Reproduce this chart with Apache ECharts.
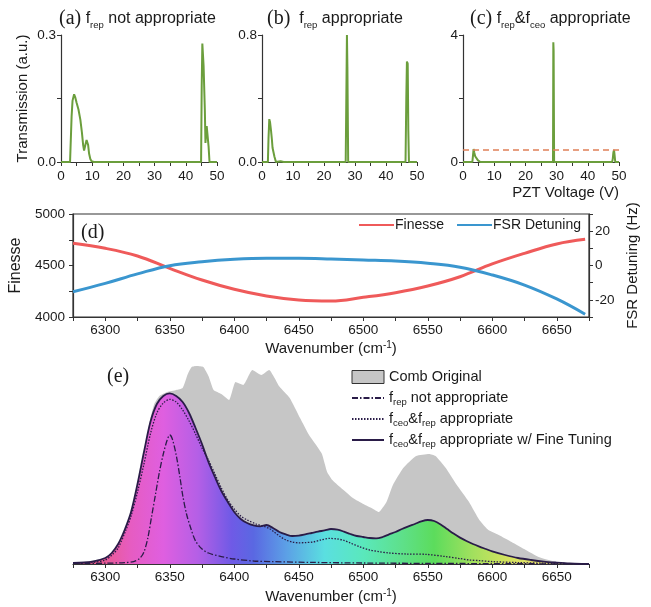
<!DOCTYPE html>
<html>
<head>
<meta charset="utf-8">
<script src="https://cdn.jsdelivr.net/npm/echarts@6/dist/echarts.min.js"></script>
<style>
html, body { margin: 0; padding: 0; background: #fff; }
#chart { width: 651px; height: 607px; }
</style>
</head>
<body>
<div id="chart"></div>
<script>
// ---- (a)(b)(c) PZT scans : voltage (V) / transmission (a.u.)
var aVolt = [0, 2.9, 3.4, 3.7, 4.2, 4.6, 5.0, 5.6, 6.2, 6.7, 7.1, 7.4, 7.8, 8.2, 8.4, 8.7, 9.0, 9.4, 9.8, 10.5, 44.9, 45.1, 45.3, 45.7, 46.1, 46.3, 46.7, 47.0, 47.3, 47.6, 50];
var aTrans = [0, 0, 0.108, 0.145, 0.16, 0.152, 0.14, 0.124, 0.1, 0.07, 0.04, 0.027, 0.04, 0.052, 0.055, 0.04, 0.02, 0.007, 0.002, 0, 0, 0.18, 0.28, 0.227, 0.124, 0.045, 0.085, 0.087, 0.037, 0, 0];

var bVolt = [0, 1.9, 2.1, 2.35, 2.6, 2.9, 3.2, 3.4, 3.6, 3.8, 4.0, 4.5, 6.0, 6.5, 7.0, 27.0, 27.3, 27.4, 27.55, 27.8, 29.9, 30.1, 30.3, 46.3, 46.55, 46.75, 47.0, 47.2, 47.4, 50];
var bTrans = [0, 0, 0.15, 0.27, 0.25, 0.2, 0.14, 0.09, 0.087, 0.08, 0.035, 0, 0.005, 0.005, 0, 0, 0.6, 0.8, 0.6, 0, 0, 0.01, 0, 0, 0.4, 0.633, 0.62, 0.2, 0, 0];

var cVolt = [0, 3.0, 3.2, 3.4, 3.6, 3.9, 4.2, 4.5, 4.8, 5.2, 5.6, 28.85, 28.95, 29.05, 29.2, 47.8, 48.0, 48.2, 48.4, 48.6, 48.8, 50];
var cTrans = [0, 0, 0.2, 0.41, 0.3, 0.18, 0.14, 0.12, 0.05, 0.02, 0, 0, 3.77, 3.5, 0, 0, 0.1, 0.3, 0.38, 0.2, 0, 0];
var cThreshold = 0.4;

// ---- (d) finesse and FSR detuning vs wavenumber
var dWn = [6275, 6300, 6325, 6350, 6375, 6400, 6425, 6450, 6475, 6500, 6525, 6550, 6575, 6600, 6625, 6650, 6672];
var finesse = [4715, 4667, 4592, 4472, 4359, 4269, 4204, 4165, 4155, 4191, 4236, 4301, 4391, 4515, 4618, 4709, 4754];
var fsrDetuning = [-15.3, -10.4, -4.9, -0.1, 2.2, 3.6, 4.2, 4.2, 3.8, 3.2, 2.6, 1.3, -1.0, -5.5, -11.4, -19.5, -28.4];

// ---- (e) spectra (a.u.)
var combWn = [6275, 6300, 6310, 6320, 6325, 6330, 6334, 6338, 6342, 6348, 6355, 6360, 6364, 6367, 6371, 6376, 6380, 6384, 6390, 6396, 6401, 6407, 6414, 6421, 6427, 6435, 6443, 6451, 6458, 6464, 6468, 6472, 6476, 6482, 6492, 6500, 6507, 6512, 6518, 6523, 6531, 6541, 6551, 6556, 6564, 6572, 6582, 6590, 6597, 6605, 6615, 6626, 6636, 6650, 6675];
var combVal = [0.003, 0.03, 0.09, 0.24, 0.37, 0.52, 0.7, 0.8, 0.84, 0.86, 0.87, 0.88, 0.95, 0.985, 0.99, 0.985, 0.94, 0.87, 0.85, 0.82, 0.91, 0.895, 0.97, 0.945, 0.97, 0.887, 0.83, 0.73, 0.645, 0.59, 0.55, 0.46, 0.42, 0.385, 0.33, 0.3, 0.278, 0.26, 0.31, 0.395, 0.48, 0.54, 0.55, 0.54, 0.48, 0.4, 0.31, 0.22, 0.17, 0.145, 0.11, 0.07, 0.035, 0.01, 0];

var tunedWn = [6275, 6290, 6300, 6305, 6310, 6315, 6320, 6325, 6330, 6335, 6340, 6345, 6350, 6355, 6360, 6365, 6370, 6375, 6380, 6385, 6390, 6395, 6400, 6405, 6410, 6415, 6420, 6425, 6430, 6435, 6440, 6445, 6450, 6455, 6460, 6465, 6470, 6475, 6480, 6485, 6490, 6495, 6500, 6505, 6510, 6515, 6520, 6525, 6530, 6535, 6540, 6545, 6550, 6555, 6560, 6565, 6570, 6575, 6580, 6585, 6590, 6595, 6600, 6610, 6620, 6630, 6640, 6650, 6660, 6675];
var tunedVal = [0.005, 0.012, 0.03, 0.055, 0.1, 0.17, 0.26, 0.4, 0.56, 0.71, 0.8, 0.84, 0.853, 0.84, 0.81, 0.755, 0.68, 0.6, 0.51, 0.435, 0.365, 0.31, 0.26, 0.225, 0.205, 0.193, 0.188, 0.195, 0.18, 0.16, 0.148, 0.14, 0.142, 0.148, 0.155, 0.162, 0.168, 0.175, 0.172, 0.162, 0.15, 0.14, 0.135, 0.13, 0.128, 0.135, 0.148, 0.16, 0.175, 0.188, 0.2, 0.213, 0.22, 0.215, 0.198, 0.175, 0.152, 0.132, 0.115, 0.1, 0.087, 0.075, 0.063, 0.045, 0.03, 0.02, 0.012, 0.007, 0.003, 0];

var goodWn = [6275, 6290, 6300, 6306, 6310, 6316, 6320, 6325, 6330, 6335, 6340, 6345, 6350, 6355, 6360, 6365, 6370, 6375, 6380, 6385, 6390, 6395, 6400, 6405, 6410, 6417, 6422, 6427, 6431, 6435, 6440, 6445, 6450, 6455, 6461, 6467, 6474, 6480, 6485, 6490, 6497, 6505, 6512, 6520, 6533, 6549, 6564, 6575, 6582, 6590, 6600, 6620, 6640, 6660, 6675];
var goodVal = [0.003, 0.008, 0.02, 0.05, 0.08, 0.17, 0.24, 0.36, 0.5, 0.65, 0.755, 0.805, 0.823, 0.81, 0.77, 0.715, 0.65, 0.58, 0.52, 0.45, 0.38, 0.32, 0.275, 0.24, 0.22, 0.2, 0.19, 0.178, 0.16, 0.14, 0.12, 0.11, 0.106, 0.107, 0.11, 0.12, 0.128, 0.125, 0.118, 0.105, 0.087, 0.07, 0.062, 0.055, 0.05, 0.048, 0.037, 0.027, 0.02, 0.017, 0.012, 0.007, 0.004, 0.002, 0];

var badWn = [6275, 6300, 6315, 6322, 6327, 6330, 6333, 6336, 6339, 6342, 6345, 6348, 6350, 6352, 6355, 6358, 6360, 6363, 6366, 6370, 6375, 6380, 6390, 6400, 6415, 6430, 6460, 6500, 6550, 6600, 6675];
var badVal = [0.003, 0.004, 0.007, 0.012, 0.03, 0.06, 0.13, 0.24, 0.35, 0.46, 0.55, 0.62, 0.645, 0.625, 0.545, 0.43, 0.345, 0.25, 0.185, 0.115, 0.075, 0.055, 0.037, 0.025, 0.015, 0.012, 0.008, 0.005, 0.003, 0.002, 0];

function zip(xs, ys) {
  return xs.map(function (x, i) { return [x, ys[i]]; });
}

var sans = 'Liberation Sans, Arial, Helvetica, sans-serif';
var serif = 'Liberation Serif, Times New Roman, serif';
var ink = '#1a1a1a';
var axisCol = '#333';
var green = '#6b9e3c';
var navy = '#2a1c48';

var rich = {
  p: { fontFamily: serif, fontSize: 20, lineHeight: 22, color: ink },
  sub: { fontFamily: sans, fontSize: 9.5, lineHeight: 10, verticalAlign: 'bottom', color: ink },
  sup: { fontFamily: sans, fontSize: 10, lineHeight: 10, verticalAlign: 'top', color: ink }
};

function titleStyle() {
  return { fontFamily: sans, fontSize: 16, fontWeight: 'normal', color: ink, lineHeight: 22, rich: rich };
}

function topX(gi, name) {
  var ax = {
    gridIndex: gi, type: 'value', min: 0, max: 50, interval: 5,
    axisLine: { show: true, onZero: false, lineStyle: { color: axisCol, width: 1.2 } },
    axisTick: { show: true, length: 4, lineStyle: { color: axisCol } },
    axisLabel: {
      fontSize: 13.5, color: ink, fontFamily: sans, margin: 7, showMinLabel: true, showMaxLabel: true,
      formatter: function (v) { return v % 10 === 0 ? v : ''; }
    },
    splitLine: { show: false }
  };
  if (name) {
    ax.name = name;
    ax.nameLocation = 'end';
    ax.nameGap = 0;
    ax.nameTextStyle = { fontFamily: sans, fontSize: 15, color: ink, align: 'right', verticalAlign: 'top', padding: [23, 0, 0, 0] };
  }
  return ax;
}

function topY(gi, max, dec, name) {
  var ax = {
    gridIndex: gi, type: 'value', min: 0, max: max, interval: max / 2,
    axisLine: { show: true, lineStyle: { color: axisCol, width: 1.2 } },
    axisTick: { show: true, length: 4, lineStyle: { color: axisCol } },
    axisLabel: {
      fontSize: 13.5, color: ink, fontFamily: sans, margin: 5, showMinLabel: true, showMaxLabel: true,
      formatter: function (v) { return Math.abs(v - max / 2) < 1e-9 ? '' : v.toFixed(dec); }
    },
    splitLine: { show: false }
  };
  if (name) {
    ax.name = name;
    ax.nameLocation = 'middle';
    ax.nameGap = 31;
    ax.nameTextStyle = { fontFamily: sans, fontSize: 15, color: ink };
  }
  return ax;
}

function scan(name, gi, xs, ys) {
  return {
    name: name, type: 'line', xAxisIndex: gi, yAxisIndex: gi,
    data: zip(xs, ys), symbol: 'none', silent: true,
    lineStyle: { color: green, width: 2 }, itemStyle: { color: green }
  };
}

var chart = echarts.init(document.getElementById('chart'), null, { renderer: 'canvas' });

var gridBase = { containLabel: false, outerBoundsMode: 'none' };

var combFill = {
  type: 'linear', x: 0, y: 0, x2: 1, y2: 0,
  colorStops: [
    { offset: 0.0, color: '#eb5a7e' },
    { offset: 0.05, color: '#ea5a8a' },
    { offset: 0.1125, color: '#e65cc2' },
    { offset: 0.175, color: '#df5fe0' },
    { offset: 0.2425, color: '#b45fe6' },
    { offset: 0.3075, color: '#6f5ae6' },
    { offset: 0.35, color: '#5a68e2' },
    { offset: 0.4125, color: '#5c9fe6' },
    { offset: 0.4875, color: '#5adfe0' },
    { offset: 0.5625, color: '#5ae8bc' },
    { offset: 0.6375, color: '#5ee08a' },
    { offset: 0.7, color: '#5cdc5c' },
    { offset: 0.775, color: '#a2e05e' },
    { offset: 0.8425, color: '#d4e25e' },
    { offset: 0.9125, color: '#e8e26e' },
    { offset: 1, color: '#ece47a' }
  ]
};

var eLegendNames = {
  'Comb Original': 'Comb Original',
  'frep not appropriate': 'f{sub|rep} not appropriate',
  'fceo&frep appropriate': 'f{sub|ceo}&f{sub|rep} appropriate',
  'fceo&frep appropriate w/ Fine Tuning': 'f{sub|ceo}&f{sub|rep} appropriate w/ Fine Tuning'
};

// line-only legend items: hide the marker drawn on top of the line
var lineOnly = { opacity: 0 };

var option = {
  backgroundColor: '#fff',
  animation: false,
  textStyle: { fontFamily: sans },
  title: [
    { text: '{p|(a)} f{sub|rep} not appropriate', left: 54, top: 3, textStyle: titleStyle() },
    { text: '{p|(b)}  f{sub|rep} appropriate', left: 262, top: 3, textStyle: titleStyle() },
    { text: '{p|(c)} f{sub|rep}&f{sub|ceo} appropriate', left: 465, top: 3, textStyle: titleStyle() },
    { text: '(d)', left: 76, top: 218, textStyle: { fontFamily: serif, fontSize: 20, fontWeight: 'normal', color: ink } },
    { text: '(e)', left: 102, top: 362, textStyle: { fontFamily: serif, fontSize: 20, fontWeight: 'normal', color: ink } }
  ],
  grid: [
    Object.assign({ left: 61, top: 35, width: 156, height: 127 }, gridBase),
    Object.assign({ left: 262, top: 35, width: 155, height: 127 }, gridBase),
    Object.assign({ left: 463, top: 35, width: 156, height: 127 }, gridBase),
    Object.assign({ left: 73, top: 214, width: 516, height: 103, show: true, borderColor: axisCol, borderWidth: 1.2, backgroundColor: 'transparent' }, gridBase),
    Object.assign({ left: 73, top: 364, width: 516, height: 200 }, gridBase)
  ],
  legend: [
    {
      data: [
        { name: 'Finesse', itemStyle: lineOnly },
        { name: 'FSR Detuning', itemStyle: lineOnly }
      ],
      left: 353, top: 213, itemWidth: 35, itemHeight: 12, itemGap: 12,
      textStyle: { fontFamily: sans, fontSize: 14, color: ink, padding: [0, 0, 0, -4] },
      selectedMode: false
    },
    {
      data: [
        { name: 'Comb Original', icon: 'rect', itemStyle: { color: '#c6c6c6', borderColor: '#333', borderWidth: 1, opacity: 1 } },
        { name: 'frep not appropriate', itemStyle: lineOnly },
        { name: 'fceo&frep appropriate', itemStyle: lineOnly },
        { name: 'fceo&frep appropriate w/ Fine Tuning', itemStyle: lineOnly }
      ],
      orient: 'vertical', left: 346, top: 363, itemWidth: 32, itemHeight: 13, itemGap: 3,
      selectedMode: false,
      formatter: function (name) { return eLegendNames[name]; },
      textStyle: { fontFamily: sans, fontSize: 14.5, color: ink, lineHeight: 18, rich: rich }
    }
  ],
  xAxis: [
    topX(0), topX(1), topX(2, 'PZT Voltage (V)'),
    {
      gridIndex: 3, type: 'value', min: 6275, max: 6675, interval: 25,
      axisLine: { show: true, onZero: false, lineStyle: { color: axisCol, width: 1.2 } },
      axisTick: { show: true, length: 4, lineStyle: { color: axisCol } },
      axisLabel: { fontSize: 13.5, color: ink, fontFamily: sans, margin: 6, formatter: function (v) { return v % 50 === 0 ? v : ''; } },
      splitLine: { show: false },
      name: 'Wavenumber (cm{sup|-1})', nameLocation: 'middle', nameGap: 23,
      nameTextStyle: { fontFamily: sans, fontSize: 15, color: ink, lineHeight: 18, rich: rich }
    },
    {
      gridIndex: 4, type: 'value', min: 6275, max: 6675, interval: 25,
      axisLine: { show: true, onZero: false, lineStyle: { color: axisCol, width: 1.2 } },
      axisTick: { show: true, length: 4, lineStyle: { color: axisCol } },
      axisLabel: { fontSize: 13.5, color: ink, fontFamily: sans, margin: 6, formatter: function (v) { return v % 50 === 0 ? v : ''; } },
      splitLine: { show: false },
      name: 'Wavenumber (cm{sup|-1})', nameLocation: 'middle', nameGap: 24,
      nameTextStyle: { fontFamily: sans, fontSize: 15, color: ink, lineHeight: 18, rich: rich }
    }
  ],
  yAxis: [
    topY(0, 0.3, 1, 'Transmission (a.u.)'), topY(1, 0.8, 1), topY(2, 4, 0),
    {
      gridIndex: 3, type: 'value', min: 4000, max: 5000, interval: 250,
      axisLine: { show: true, lineStyle: { color: axisCol, width: 1.2 } },
      axisTick: { show: true, length: 4, lineStyle: { color: axisCol } },
      axisLabel: { fontSize: 13.5, color: ink, fontFamily: sans, margin: 8, formatter: function (v) { return v % 500 === 0 ? v : ''; } },
      splitLine: { show: false },
      name: 'Finesse', nameLocation: 'middle', nameGap: 41,
      nameTextStyle: { fontFamily: sans, fontSize: 16, color: ink }
    },
    {
      gridIndex: 3, type: 'value', position: 'right', min: -30, max: 30, interval: 10,
      axisLine: { show: true, lineStyle: { color: axisCol, width: 1.2 } },
      axisTick: { show: true, length: 4, lineStyle: { color: axisCol } },
      axisLabel: { fontSize: 13.5, color: ink, fontFamily: sans, margin: 6, formatter: function (v) { return (v === 20 || v === 0 || v === -20) ? v : ''; } },
      splitLine: { show: false },
      name: 'FSR Detuning (Hz)', nameLocation: 'middle', nameGap: 33, nameRotate: 90,
      nameTextStyle: { fontFamily: sans, fontSize: 15, color: ink }
    },
    { gridIndex: 4, type: 'value', min: 0, max: 1, show: false, splitLine: { show: false } }
  ],
  series: [
    scan('scanA', 0, aVolt, aTrans),
    scan('scanB', 1, bVolt, bTrans),
    Object.assign(scan('scanC', 2, cVolt, cTrans), {
      markLine: {
        silent: true, symbol: ['none', 'none'], label: { show: false },
        lineStyle: { type: [6, 4], color: '#e08058', width: 1.5, opacity: 1 },
        emphasis: { disabled: true },
        data: [{ yAxis: cThreshold, lineStyle: { color: '#e08058', type: [6, 4], width: 1.5 } }]
      }
    }),
    {
      name: 'Finesse', type: 'line', xAxisIndex: 3, yAxisIndex: 3, data: zip(dWn, finesse),
      symbol: 'none', smooth: 0.4, lineStyle: { color: '#ef5a5a', width: 3 }, itemStyle: { color: '#ef5a5a' }
    },
    {
      name: 'FSR Detuning', type: 'line', xAxisIndex: 3, yAxisIndex: 4, data: zip(dWn, fsrDetuning),
      symbol: 'none', smooth: 0.4, lineStyle: { color: '#3a96cf', width: 3 }, itemStyle: { color: '#3a96cf' }
    },
    {
      name: 'Comb Original', type: 'line', xAxisIndex: 4, yAxisIndex: 5, data: zip(combWn, combVal),
      symbol: 'none', smooth: 0.15, lineStyle: { width: 0, color: '#c6c6c6' }, itemStyle: { color: '#c6c6c6' },
      areaStyle: { color: '#c6c6c6', opacity: 1 }, z: 1
    },
    {
      name: 'fceo&frep appropriate w/ Fine Tuning', type: 'line', xAxisIndex: 4, yAxisIndex: 5, data: zip(tunedWn, tunedVal),
      symbol: 'none', smooth: 0.3, lineStyle: { width: 1.8, color: navy }, itemStyle: { color: navy },
      areaStyle: { color: combFill, opacity: 1 }, z: 2
    },
    {
      name: 'fceo&frep appropriate', type: 'line', xAxisIndex: 4, yAxisIndex: 5, data: zip(goodWn, goodVal),
      symbol: 'none', smooth: 0.3, lineStyle: { width: 1.3, color: navy, type: [1.5, 1.5] }, itemStyle: { color: navy }, z: 3
    },
    {
      name: 'frep not appropriate', type: 'line', xAxisIndex: 4, yAxisIndex: 5, data: zip(badWn, badVal),
      symbol: 'none', smooth: 0.3, lineStyle: { width: 1.3, color: navy, type: [6, 2, 1.5, 2] }, itemStyle: { color: navy }, z: 3
    }
  ]
};

chart.setOption(option);
</script>
</body>
</html>
